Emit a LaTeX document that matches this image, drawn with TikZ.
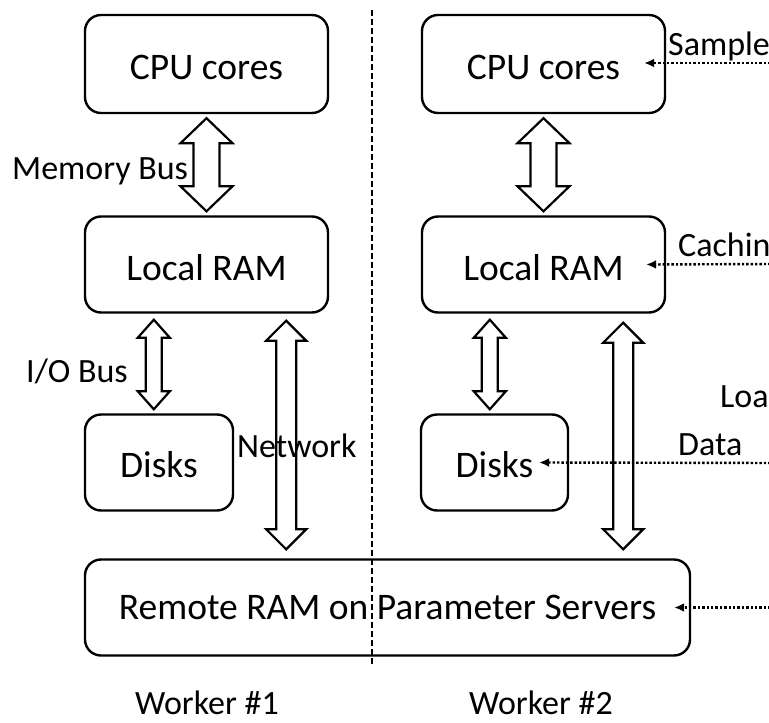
\documentclass[tikz,border=0pt]{standalone}
\usepackage{fontspec}
\setmainfont{Carlito}
\usetikzlibrary{arrows.meta,calc}
\providecommand{\busarrow}[5]{%
  \draw[bus] let \p1=#4, \p2=#5 in
    (\x1,\y1) -- (\x1+#2,\y1-#3) -- (\x1+#1,\y1-#3) -- (\x1+#1,\y2+#3) -- (\x1+#2,\y2+#3)
    -- (\x1,\y2) -- (\x1-#2,\y2+#3) -- (\x1-#1,\y2+#3) -- (\x1-#1,\y1-#3) -- (\x1-#2,\y1-#3) -- cycle;}

\begin{document}
\begin{tikzpicture}[
    x=1pt, y=-1pt,
    unit/.style={draw, rounded corners=16pt, line width=2.4pt, inner sep=0pt, minimum width=243pt, minimum height=96pt, font=\fontsize{37.5}{40}\selectfont, align=center, text height=31pt, text depth=0pt},
    lbl/.style={inner sep=0pt, anchor=west, font=\fontsize{34}{36}\selectfont},
    worker/.style={inner sep=0pt, font=\fontsize{34}{36}\selectfont},
    bus/.style={line width=2.2pt, line join=miter},
    feed/.style={line width=2.4pt, dash pattern=on 2.4pt off 2pt, -{Latex[length=10pt,width=9pt]}},
    split/.style={line width=1.6pt, dash pattern=on 6pt off 3pt}
]
\useasboundingbox (0,0) rectangle (769,723);
\clip (0,0) rectangle (769,723);

\node[unit, minimum height=98pt] (cpuA) at (206.5,64) {CPU cores};
\node[unit, minimum height=98pt] (cpuB) at (543.5,64) {CPU cores};
\node[unit] (ramA) at (206.5,264.5) {Local RAM};
\node[unit] (ramB) at (543.5,264.5) {Local RAM};
\node[unit, minimum width=148pt, text height=29pt] (diskA) at (159,462.5) {Disks};
\node[unit, minimum width=147pt, text height=29pt] (diskB) at (494.5,462.5) {Disks};
\node[unit, minimum width=605pt, text height=24pt, text depth=0pt] (remote) at (387.5,607.5) {Remote RAM on Parameter Servers};

\busarrow{13pt}{26pt}{25pt}{($(cpuA.south)+(0,4)$)}{($(ramA.north)+(0,-4)$)}
\busarrow{13pt}{26pt}{25pt}{($(cpuB.south)+(0,4)$)}{($(ramB.north)+(0,-4)$)}
\busarrow{8pt}{16pt}{18pt}{($(ramA.south west)+(70,6)$)}{($(diskA.north)+(0,-4)$)}
\busarrow{8pt}{16pt}{18pt}{($(ramB.south west)+(69,6)$)}{($(diskB.north)+(0,-4)$)}
\busarrow{10pt}{20pt}{20pt}{($(ramA.south east)+(-43,7)$)}{($(remote.north)+(0,-9)$)}
\busarrow{10pt}{20pt}{20pt}{($(ramB.south east)+(-43,9)$)}{($(remote.north)+(0,-9)$)}

\node[lbl] (membus) at (12,171) {Memory Bus};
\node[lbl] (iobus) at (26,371) {I/O Bus};
\node[lbl] (network) at (237,446) {Network};
\node[lbl] (sample) at (668,46) {Sample};
\node[lbl] (caching) at (678,248) {Caching};
\node[lbl] (load) at (720,396) {Load};
\node[lbl] (data) at (678,445) {Data};

\coordinate (sampleIn) at (775,63);
\coordinate (cachingIn) at (775,264);
\coordinate (dataIn) at (775,463);
\coordinate (remoteIn) at (775,607.5);
\draw[feed] (sampleIn) -- ($(cpuB.east)+(-22,-1)$);
\draw[feed] (cachingIn) -- ($(ramB.east)+(-20,0)$);
\draw[feed] (dataIn) -- ($(diskB.east)+(-30,0)$);
\draw[feed] (remoteIn) -- ($(remote.east)+(-17,0)$);

\coordinate (splitTop) at (372,10);
\coordinate (splitBottom) at (372,665);
\draw[split] (splitTop) -- (splitBottom);

\node[worker] (workerA) at (207,703) {Worker \#1};
\node[worker] (workerB) at (541,703) {Worker \#2};
\end{tikzpicture}
\end{document}
